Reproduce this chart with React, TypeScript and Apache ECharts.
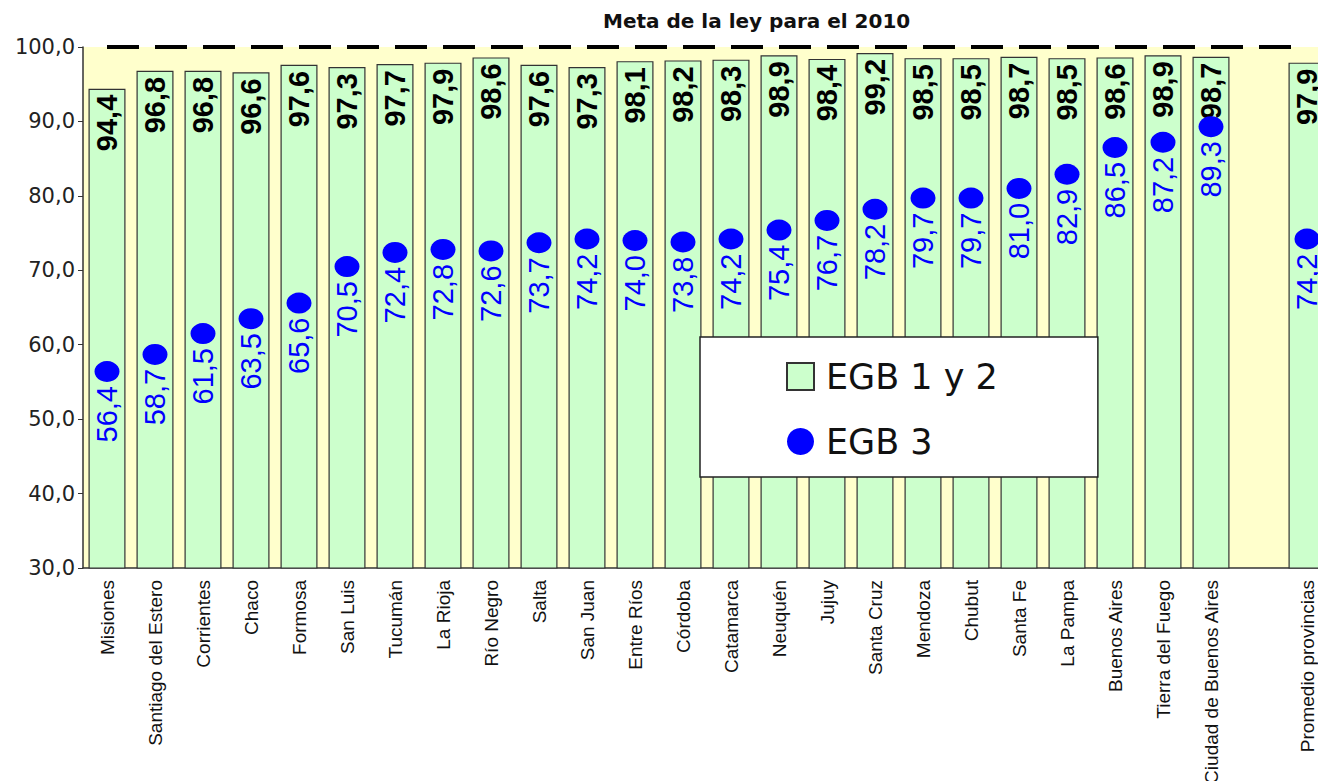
import React, { useEffect, useRef } from "react";
import * as echarts from "echarts";

const categories: string[] = [
  "Misiones", "Santiago del Estero", "Corrientes", "Chaco", "Formosa", "San Luis",
  "Tucumán", "La Rioja", "Río Negro", "Salta", "San Juan", "Entre Ríos", "Córdoba",
  "Catamarca", "Neuquén", "Jujuy", "Santa Cruz", "Mendoza", "Chubut", "Santa Fe",
  "La Pampa", "Buenos Aires", "Tierra del Fuego", "Ciudad de Buenos Aires", "",
  "Promedio provincias",
];

const egb12: (number | null)[] = [
  94.4, 96.8, 96.8, 96.6, 97.6, 97.3, 97.7, 97.9, 98.6, 97.6, 97.3, 98.1, 98.2,
  98.3, 98.9, 98.4, 99.2, 98.5, 98.5, 98.7, 98.5, 98.6, 98.9, 98.7, null, 97.9,
];

const egb3: (number | null)[] = [
  56.4, 58.7, 61.5, 63.5, 65.6, 70.5, 72.4, 72.8, 72.6, 73.7, 74.2, 74.0, 73.8,
  74.2, 75.4, 76.7, 78.2, 79.7, 79.7, 81.0, 82.9, 86.5, 87.2, 89.3, null, 74.2,
];

const meta: number[] = [
  100, 100, 100, 100, 100, 100, 100, 100, 100, 100, 100, 100, 100,
  100, 100, 100, 100, 100, 100, 100, 100, 100, 100, 100, 100, 100,
];

const titleText = "Meta de la ley para el 2010";
const yMin = 30;
const yMax = 100;
const yStep = 10;

const fmt = (v: number) => v.toFixed(1).replace(".", ",");
const ARIAL = "'Liberation Sans', Arial, sans-serif";
const WIDE = "'DejaVu Sans', Verdana, sans-serif";

export default function App() {
  const ref = useRef<HTMLDivElement>(null);
  useEffect(() => {
    if (!ref.current) return;
    const chart = echarts.init(ref.current, undefined, { renderer: "svg" });
    chart.setOption({
      animation: false,
      backgroundColor: "#ffffff",
      title: {
        text: titleText,
        left: 598,
        top: 6,
        textStyle: { fontFamily: WIDE, fontSize: 20, fontWeight: "bold", color: "#111" },
      },
      legend: {
        orient: "vertical",
        left: 700,
        top: 337,
        padding: [22, 100, 18, 86],
        itemWidth: 27,
        itemHeight: 27,
        itemGap: 30,
        backgroundColor: "#ffffff",
        borderColor: "#222",
        borderWidth: 1.5,
        z: 10,
        textStyle: { fontFamily: WIDE, fontSize: 35, color: "#111", padding: [0, 0, 0, 7] },
        data: [
          { name: "EGB 1 y 2", icon: "rect" },
          { name: "EGB 3", icon: "circle" },
        ],
      },
      grid: {
        left: 83,
        top: 47,
        bottom: 213,
        right: 9,
        outerBoundsMode: "none",
        containLabel: false,
        show: true,
        backgroundColor: "#FFFFCC",
        borderWidth: 0,
      },
      xAxis: {
        type: "category",
        data: categories,
        axisLine: { lineStyle: { color: "#333", width: 1.5 } },
        axisTick: { lineStyle: { color: "#333" }, length: 5 },
        axisLabel: {
          rotate: 90,
          interval: 0,
          margin: 12,
          fontFamily: ARIAL,
          fontSize: 19,
          color: "#111",
        },
      },
      yAxis: {
        type: "value",
        min: yMin,
        max: yMax,
        interval: yStep,
        splitLine: { show: false },
        axisLine: { show: true, lineStyle: { color: "#333", width: 1.5 } },
        axisTick: { show: true, lineStyle: { color: "#333" }, length: 5 },
        axisLabel: {
          formatter: (v: number) => fmt(v),
          fontFamily: WIDE,
          fontSize: 21,
          color: "#222",
          margin: 8,
        },
      },
      series: [
        {
          name: "EGB 1 y 2",
          type: "bar",
          data: egb12,
          barWidth: 37,
          z: 2,
          itemStyle: { color: "#CCFFCC", borderColor: "#333", borderWidth: 1.2 },
          label: {
            show: true,
            position: "insideTop",
            rotate: 90,
            align: "right",
            verticalAlign: "middle",
            distance: 6,
            formatter: (p: any) => fmt(p.value),
            fontFamily: ARIAL,
            fontWeight: "bold",
            fontSize: 29,
            color: "#000",
          },
        },
        {
          name: "EGB 3",
          type: "scatter",
          data: egb3,
          symbol: "circle",
          symbolSize: [25, 21],
          z: 3,
          itemStyle: { color: "#0000FF", opacity: 1 },
          label: {
            show: true,
            position: "bottom",
            rotate: 90,
            align: "right",
            verticalAlign: "middle",
            distance: 4,
            formatter: (p: any) => fmt(p.value),
            fontFamily: ARIAL,
            fontSize: 29,
            color: "#0000FF",
          },
        },
        {
          name: "Meta",
          type: "line",
          data: meta,
          symbol: "none",
          z: 4,
          lineStyle: { color: "#000", width: 4, type: [32, 16] },
        },
      ],
    });
    return () => chart.dispose();
  }, []);
  return (
    <div
      ref={ref}
      style={{ position: "fixed", left: 0, top: 0, width: 1340, height: 781 }}
    />
  );
}
